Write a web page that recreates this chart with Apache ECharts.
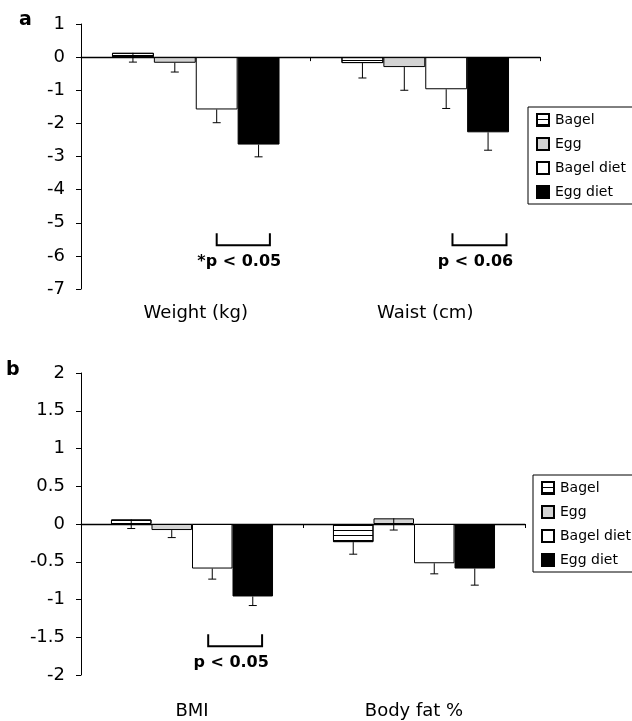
<!DOCTYPE html>
<html>
<head>
<meta charset="utf-8">
<script src="https://cdn.jsdelivr.net/npm/echarts@6/dist/echarts.min.js"></script>
<style>
  html, body { margin: 0; padding: 0; background: #fff; }
  #main { width: 632px; height: 721px; }
</style>
</head>
<body>
<div id="main"></div>
<script>
// datos
var groups = ['Bagel', 'Egg', 'Bagel diet', 'Egg diet'];
var catsA = ['Weight (kg)', 'Waist (cm)'];
var catsB = ['BMI', 'Body fat %'];

// panel a: cambio medio y error
var bagelA = [0.13, -0.18];
var eggA = [-0.17, -0.30];
var bagelDietA = [-1.58, -0.97];
var eggDietA = [-2.64, -2.27];
var bagelErrA = [0.28, 0.45];
var eggErrA = [0.28, 0.70];
var bagelDietErrA = [0.40, 0.58];
var eggDietErrA = [0.37, 0.54];

// panel b
var bagelB = [0.06, -0.24];
var eggB = [-0.08, 0.075];
var bagelDietB = [-0.59, -0.52];
var eggDietB = [-0.96, -0.59];
var bagelErrB = [0.12, 0.16];
var eggErrB = [0.10, 0.155];
var bagelDietErrB = [0.14, 0.14];
var eggDietErrB = [0.12, 0.22];

// significancia: categoria, barra desde/hasta, y arriba/abajo, texto
var sigA = [
  [0, 2.0, 3.27, -5.32, -5.68, '*p < 0.05'],
  [1, 2.15, 3.44, -5.32, -5.68, 'p < 0.06']
];
var sigB = [
  [0, 1.9, 3.23, -1.46, -1.62, 'p < 0.05']
];

var FONT = 'DejaVu Sans';
var GAP = 0.27;
var fills = ['#ffffff', '#d3d3d3', '#ffffff', '#000000'];
var stripes = {
  symbol: 'rect', symbolSize: 1, color: '#000',
  dashArrayX: [1, 0], dashArrayY: [1, 3.1], rotation: 0
};

var myChart = echarts.init(document.getElementById('main'));

function barSeries(name, i, data, grid) {
  var style = { color: fills[i], borderColor: '#000', borderWidth: 1 };
  if (i === 0) style.decal = stripes;
  return {
    type: 'bar', name: name, data: data,
    xAxisIndex: grid * 2, yAxisIndex: grid,
    barGap: '0%', barCategoryGap: (GAP * 100) + '%',
    itemStyle: style, emphasis: { disabled: true }, z: 2
  };
}

function errSeries(vals, errs, grid) {
  var data = [];
  vals.forEach(function (arr, s) {
    arr.forEach(function (v, c) { data.push([c, v, errs[s][c], s]); });
  });
  return {
    type: 'custom', xAxisIndex: grid * 2, yAxisIndex: grid, z: 5,
    encode: { x: 0, y: 1 }, data: data, silent: true,
    renderItem: function (params, api) {
      var cat = api.value(0), v = api.value(1), e = api.value(2), s = api.value(3);
      var bw = api.size([1, 0])[0] * (1 - GAP) / 4;
      var p = api.coord([cat, v]);
      var x = p[0] + (s - 1.5) * bw;
      var y2 = api.coord([cat, v - e])[1];
      var st = { stroke: '#000', lineWidth: 1 };
      return { type: 'group', children: [
        { type: 'line', shape: { x1: x, y1: p[1], x2: x, y2: y2 }, style: st },
        { type: 'line', shape: { x1: x - 4, y1: y2, x2: x + 4, y2: y2 }, style: st }
      ] };
    }
  };
}

function sigSeries(sig, grid) {
  return {
    type: 'custom', xAxisIndex: grid * 2, yAxisIndex: grid, z: 5,
    encode: { x: 0, y: 3 }, silent: true,
    data: sig.map(function (d) { return d.slice(0, 5); }),
    renderItem: function (params, api) {
      var cat = api.value(0);
      var bw = api.size([1, 0])[0] * (1 - GAP) / 4;
      var c = api.coord([cat, api.value(3)]);
      var yb = api.coord([cat, api.value(4)])[1];
      var x1 = c[0] + (api.value(1) - 1.5) * bw;
      var x2 = c[0] + (api.value(2) - 1.5) * bw;
      return { type: 'group', children: [
        { type: 'polyline', shape: { points: [[x1, c[1]], [x1, yb], [x2, yb], [x2, c[1]]] },
          style: { stroke: '#000', lineWidth: 2, fill: null } },
        { type: 'text', style: {
            x: (x1 + x2) / 2 - 4, y: yb + 17, text: sig[params.dataIndex][5],
            align: 'center', verticalAlign: 'middle',
            font: 'bold 16px "' + FONT + '"', fill: '#000' } }
      ] };
    }
  };
}

function yAxis(grid, min, max, step) {
  return {
    type: 'value', gridIndex: grid, min: min, max: max, interval: step,
    splitLine: { show: false },
    axisLine: { show: true, lineStyle: { color: '#000', width: 1 } },
    axisTick: { show: true, length: 5, lineStyle: { color: '#000' } },
    axisLabel: { color: '#000', fontFamily: FONT, fontSize: 18, margin: 16 }
  };
}

function xAxes(grid, cats, margin) {
  return [{
    type: 'category', gridIndex: grid, data: cats,
    axisLine: { onZero: true, lineStyle: { color: '#000', width: 1.3 } },
    axisTick: { show: true, length: 4, lineStyle: { color: '#000' } },
    axisLabel: { show: false }
  }, {
    type: 'category', gridIndex: grid, data: cats, position: 'bottom',
    axisLine: { show: false, onZero: false }, axisTick: { show: false },
    axisLabel: { color: '#000', fontFamily: FONT, fontSize: 18, margin: margin }
  }];
}

function legend(left, top) {
  return {
    data: groups, orient: 'vertical', left: left, top: top,
    icon: 'rect', itemWidth: 12, itemHeight: 12, itemGap: 10,
    padding: [6, 8, 5, 8], borderColor: '#000', borderWidth: 1,
    backgroundColor: '#fff', selectedMode: false,
    textStyle: { color: '#000', fontFamily: FONT, fontSize: 14, padding: [0, 0, 0, 1] }
  };
}

var series = [];
[bagelA, eggA, bagelDietA, eggDietA].forEach(function (d, i) { series.push(barSeries(groups[i], i, d, 0)); });
[bagelB, eggB, bagelDietB, eggDietB].forEach(function (d, i) { series.push(barSeries(groups[i], i, d, 1)); });
series.push(errSeries([bagelA, eggA, bagelDietA, eggDietA], [bagelErrA, eggErrA, bagelDietErrA, eggDietErrA], 0));
series.push(errSeries([bagelB, eggB, bagelDietB, eggDietB], [bagelErrB, eggErrB, bagelDietErrB, eggDietErrB], 1));
series.push(sigSeries(sigA, 0));
series.push(sigSeries(sigB, 1));

var option = {
  animation: false,
  backgroundColor: '#fff',
  grid: [
    { left: 81, top: 24, width: 459, height: 265 },
    { left: 81, top: 373, width: 444, height: 302 }
  ],
  xAxis: xAxes(0, catsA, 15).concat(xAxes(1, catsB, 27)),
  yAxis: [yAxis(0, -7, 1, 1), yAxis(1, -2, 2, 0.5)],
  legend: [legend(528, 107), legend(533, 475)],
  graphic: [
    { type: 'text', left: 19, top: 11, style: { text: 'a', font: 'bold 19px "' + FONT + '"', fill: '#000' } },
    { type: 'text', left: 6, top: 361, style: { text: 'b', font: 'bold 19px "' + FONT + '"', fill: '#000' } }
  ],
  series: series
};

myChart.setOption(option);
</script>
</body>
</html>
